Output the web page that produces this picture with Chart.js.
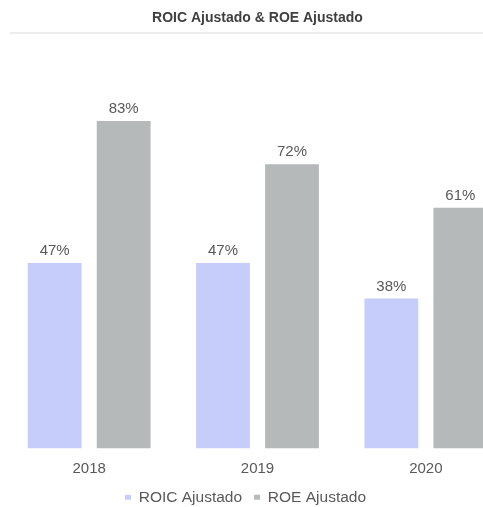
<!DOCTYPE html>
<html>
<head>
<meta charset="utf-8">
<script src="https://cdn.jsdelivr.net/npm/chart.js@4/dist/chart.umd.min.js"></script>
<style>
  html, body { margin: 0; padding: 0; background: #fff; overflow: hidden; }
  #wrap { width: 483px; height: 507px; overflow: hidden; }
</style>
</head>
<body>
<div id="wrap"><canvas id="roeChart" width="516" height="518"></canvas></div>
<script>
  // Chart data
  const years = ['2018', '2019', '2020'];
  const roicValues = [47, 47, 38];
  const roeValues = [83, 72, 61];
  const seriesNames = ['ROIC Ajustado', 'ROE Ajustado'];

  const fontFamily = 'Arial, "Liberation Sans", sans-serif';

  // Draws the percentage above each bar
  const valueLabels = {
    id: 'valueLabels',
    afterDatasetsDraw(chart) {
      const ctx = chart.ctx;
      ctx.save();
      ctx.font = '15px ' + fontFamily;
      ctx.fillStyle = '#595959';
      ctx.textAlign = 'center';
      ctx.textBaseline = 'alphabetic';
      chart.data.datasets.forEach((ds, i) => {
        chart.getDatasetMeta(i).data.forEach((bar, j) => {
          ctx.fillText(ds.data[j] + '%', bar.x, bar.y - 8);
        });
      });
      ctx.restore();
    }
  };

  // Faint rule under the title
  const titleRule = {
    id: 'titleRule',
    beforeDraw(chart) {
      const ctx = chart.ctx;
      ctx.save();
      ctx.strokeStyle = 'rgba(0,0,0,0.07)';
      ctx.lineWidth = 2;
      ctx.beginPath();
      ctx.moveTo(10, 33);
      ctx.lineTo(chart.width, 33);
      ctx.stroke();
      ctx.restore();
    }
  };

  // Nudge the legend a bit left and up, like the original
  const legendNudge = {
    id: 'legendNudge',
    afterLayout(chart) {
      const lg = chart.legend;
      lg.left -= 12;
      lg.right -= 12;
      lg.top -= 3;
      lg.bottom -= 3;
    }
  };

  const config = {
    type: 'bar',
    data: {
      labels: years,
      datasets: [
        {
          label: seriesNames[0],
          data: roicValues,
          backgroundColor: '#c6cdfb',
          categoryPercentage: 0.82,
          barPercentage: 0.78
        },
        {
          label: seriesNames[1],
          data: roeValues,
          backgroundColor: '#b5b9ba',
          categoryPercentage: 0.82,
          barPercentage: 0.78
        }
      ]
    },
    options: {
      responsive: false,
      animation: false,
      layout: { padding: { left: 5, right: 6, top: 0, bottom: 0 } },
      plugins: {
        title: {
          display: true,
          text: 'ROIC Ajustado & ROE Ajustado',
          color: '#404040',
          font: { family: fontFamily, size: 14, weight: 'bold' },
          padding: { top: 10, bottom: 27 }
        },
        legend: {
          position: 'bottom',
          labels: {
            color: '#595959',
            font: { family: fontFamily, size: 15.5 },
            boxWidth: 6,
            boxHeight: 5,
            padding: 12
          }
        },
        tooltip: { enabled: false }
      },
      scales: {
        x: {
          grid: { display: false },
          border: { display: false },
          ticks: {
            color: '#595959',
            font: { family: fontFamily, size: 15 },
            padding: 3
          }
        },
        y: {
          display: false,
          min: 0,
          max: 100
        }
      }
    },
    plugins: [valueLabels, titleRule, legendNudge]
  };

  new Chart(document.getElementById('roeChart').getContext('2d'), config);
</script>
</body>
</html>
